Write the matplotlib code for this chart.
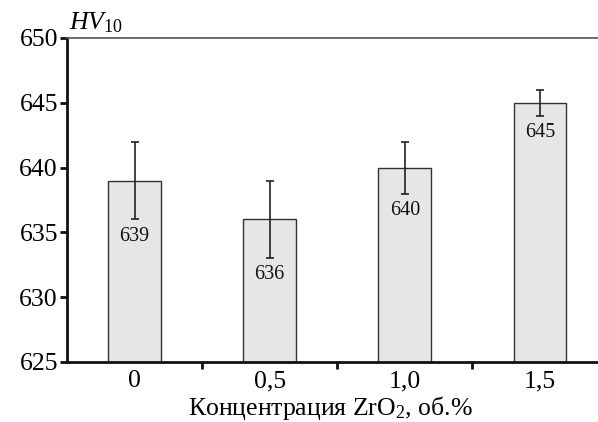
import matplotlib
matplotlib.use("Agg")
import matplotlib.pyplot as plt
import numpy as np

categories = ["0", "0,5", "1,0", "1,5"]
values = [639, 636, 640, 645]
errors = [3, 3, 2, 1]
labels = ["639", "636", "640", "645"]

plt.rcParams['font.family'] = ['Liberation Serif', 'DejaVu Serif']
plt.rcParams['mathtext.fontset'] = 'custom'
plt.rcParams['mathtext.rm'] = 'Liberation Serif'
plt.rcParams['mathtext.it'] = 'Liberation Serif:italic'

fig = plt.figure(figsize=(5.98, 4.22), dpi=100)
ax = fig.add_axes([67/598, 1 - 362/422, (598 - 67)/598, (362 - 38)/422])

x = np.arange(len(categories))
base = 625
ax.bar(x, np.array(values) - base, bottom=base, width=0.39, color='#e6e6e8',
       edgecolor='#333333', linewidth=1.0, zorder=2)
ax.errorbar(x, values, yerr=errors, fmt='none', ecolor='#222222', elinewidth=1.2,
            capsize=2.6, capthick=1.2, zorder=3)
for xi, v, e, lab in zip(x, values, errors, labels):
    ax.text(xi, v - e - 0.55, lab, ha='center', va='top', fontsize=14.5, color='#111111', zorder=4)

ax.set_ylim(625, 650)
ax.set_xlim(-0.5, (598 - 135) / 135)
ax.set_yticks(range(625, 651, 5))
ax.set_xticks(x)
ax.set_xticklabels(categories)
ax.set_xticks(x[:-1] + 0.5, minor=True)
ax.tick_params(axis='both', which='major', labelsize=18.5, direction='out', length=5, width=2, color='#111111')
ax.tick_params(axis='x', which='major', length=0, pad=6)
ax.tick_params(axis='x', which='minor', length=5, width=2, color='#111111')
ax.tick_params(axis='y', pad=1.5)

ax.spines['right'].set_visible(False)
ax.spines['left'].set_linewidth(2)
ax.spines['bottom'].set_linewidth(2)
ax.spines['left'].set_color('#111111')
ax.spines['bottom'].set_color('#111111')
ax.spines['top'].set_linewidth(1.2)
ax.spines['top'].set_color('#555555')

fig.text(330/598, 1 - 415/422, 'Концентрация ZrO$_2$, об.%', fontsize=18.5,
         ha='center', va='baseline')
fig.text(69/598, 1 - 29/422, r'$\mathit{HV}_{10}$', fontsize=18.5, ha='left', va='baseline')

fig.savefig('out.png', dpi=100)
